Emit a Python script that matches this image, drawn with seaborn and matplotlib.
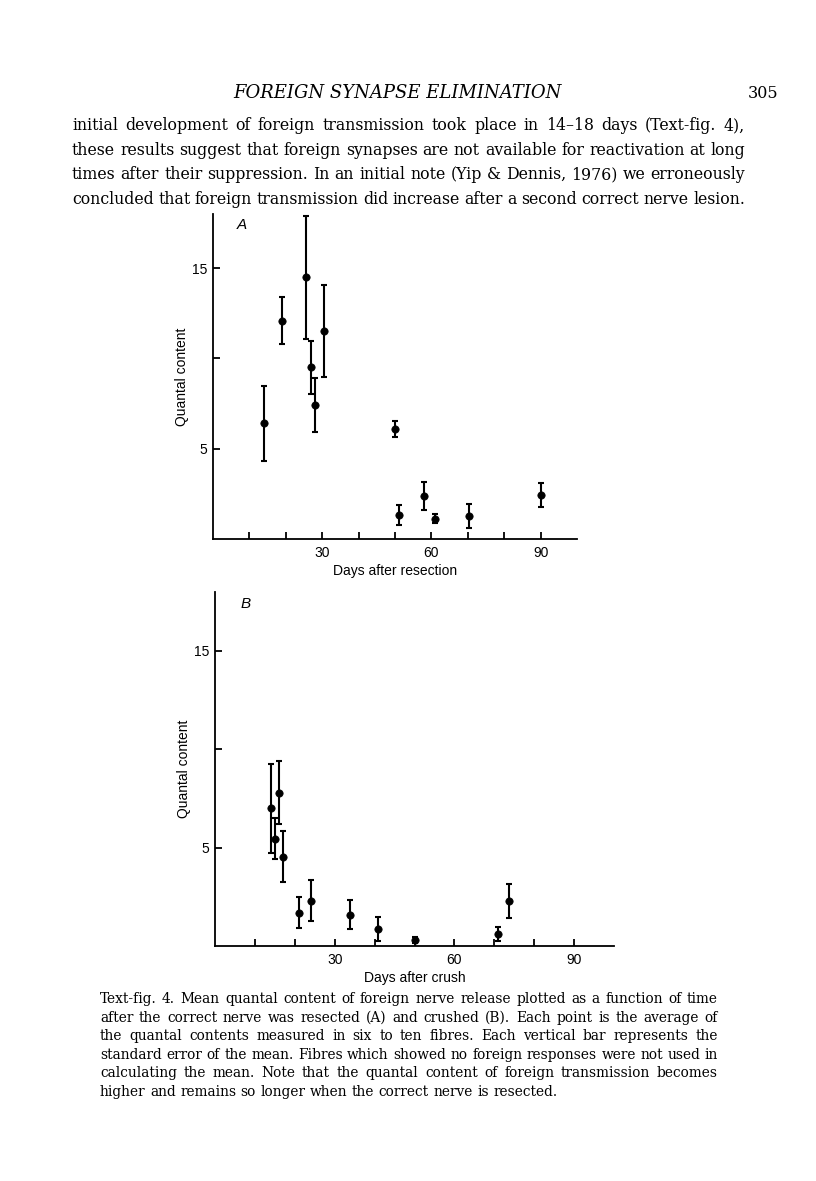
import matplotlib
matplotlib.use("Agg")
import matplotlib.pyplot as plt
import seaborn as sns

# Panel A: days after resection, mean quantal content, s.e.m.
days_a = [14, 19, 25.6, 26.8, 27.9, 30.6, 50, 51, 58, 61, 70.2, 90]
qc_a = [6.4, 12.1, 14.5, 9.5, 7.4, 11.5, 6.1, 1.35, 2.37, 1.13, 1.26, 2.43]
sem_a = [2.1, 1.3, 3.4, 1.45, 1.5, 2.55, 0.45, 0.56, 0.78, 0.26, 0.66, 0.65]

# Panel B: days after crush
days_b = [14, 15, 16, 17.1, 21, 24, 33.9, 40.9, 50, 70.9, 73.7]
qc_b = [7.0, 5.45, 7.8, 4.55, 1.7, 2.3, 1.6, 0.86, 0.3, 0.61, 2.28]
sem_b = [2.25, 1.05, 1.6, 1.3, 0.8, 1.05, 0.75, 0.62, 0.17, 0.35, 0.88]

x_ticks = [10, 20, 30, 40, 50, 60, 70, 80, 90]
x_labels = ["", "", "30", "", "", "60", "", "", "90"]
y_ticks = [5, 10, 15]
y_labels = ["5", "", "15"]

header = "FOREIGN SYNAPSE ELIMINATION"
page_no = "305"
body = [
    "initial development of foreign transmission took place in 14\u201318 days (Text-fig. 4),",
    "these results suggest that foreign synapses are not available for reactivation at long",
    "times after their suppression. In an initial note (Yip & Dennis, 1976) we erroneously",
    "concluded that foreign transmission did increase after a second correct nerve lesion.",
]
caption = [
    "Text-fig. 4. Mean quantal content of foreign nerve release plotted as a function of time",
    "after the correct nerve was resected (A) and crushed (B). Each point is the average of",
    "the quantal contents measured in six to ten fibres. Each vertical bar represents the",
    "standard error of the mean. Fibres which showed no foreign responses were not used in",
    "calculating the mean. Note that the quantal content of foreign transmission becomes",
    "higher and remains so longer when the correct nerve is resected.",
]

sns.set_style("ticks", {"text.color": "black", "axes.labelcolor": "black",
                        "xtick.color": "black", "ytick.color": "black",
                        "axes.edgecolor": "black"})
plt.rcParams["font.family"] = ["Liberation Sans", "DejaVu Sans"]

W, H = 816, 1181
fig = plt.figure(figsize=(W / 100, H / 100), dpi=100)


def px_axes(left, top, right, bottom):
    return fig.add_axes([left / W, 1 - bottom / H, (right - left) / W, (bottom - top) / H])


def panel(ax, days, qc, sem, xlabel, letter):
    ax.errorbar(days, qc, yerr=sem, fmt="none", ecolor="black", elinewidth=1.5,
                capsize=2.4, capthick=1.5)
    sns.scatterplot(x=days, y=qc, ax=ax, color="black", s=28, edgecolor="black",
                    linewidth=0.5, zorder=3)
    ax.set_xlim(0, 100)
    ax.set_ylim(0, 18)
    ax.set_xticks(x_ticks)
    ax.set_xticklabels(x_labels)
    ax.set_yticks(y_ticks)
    ax.set_yticklabels(y_labels)
    ax.tick_params(direction="in", length=5, width=1.3, labelsize=10, pad=4,
                   colors="black")
    ax.tick_params(axis="x", pad=5)
    sns.despine(ax=ax)
    for s in ("left", "bottom"):
        ax.spines[s].set_linewidth(1.3)
    ax.set_xlabel(xlabel, fontsize=10, labelpad=3, color="black")
    ax.set_ylabel("Quantal content", fontsize=10, labelpad=2, color="black")
    ax.text(0.065, 0.965, letter, transform=ax.transAxes, fontsize=11,
            fontstyle="italic", va="center", ha="left", color="black")


ax_a = px_axes(213, 214, 577, 539)
panel(ax_a, days_a, qc_a, sem_a, "Days after resection", "A")
ax_b = px_axes(215, 592, 614, 946)
panel(ax_b, days_b, qc_b, sem_b, "Days after crush", "B")

serif = ["DejaVu Serif"]
renderer = fig.canvas.get_renderer()


def justify(line, x0, x1, y, stretch=True, **kw):
    words = line.split(" ")
    texts = [fig.text(x0 / W, 1 - y / H, w, family=serif, ha="left", va="center",
                      color="black", **kw) for w in words]
    widths = [t.get_window_extent(renderer).width for t in texts]
    space = texts[0].get_fontsize() * 100 / 72 * 0.32
    gap = (x1 - x0 - sum(widths)) / (len(words) - 1) if stretch else space
    x = x0
    for t, w in zip(texts, widths):
        t.set_x(x / W)
        x += w + gap


fig.text(397 / W, 1 - 93 / H, header, family=serif, fontstyle="italic",
         fontsize=13, ha="center", va="center", color="black")
fig.text(778 / W, 1 - 93 / H, page_no, family=serif, fontsize=11.5,
         ha="right", va="center", color="black")
for i, line in enumerate(body):
    justify(line, 72, 745, 126 + 24.4 * i, fontsize=11.3)
for i, line in enumerate(caption):
    justify(line, 100, 718, 999 + 18.6 * i, stretch=i < len(caption) - 1,
            fontsize=9.9)

fig.savefig("out.png", dpi=100)
